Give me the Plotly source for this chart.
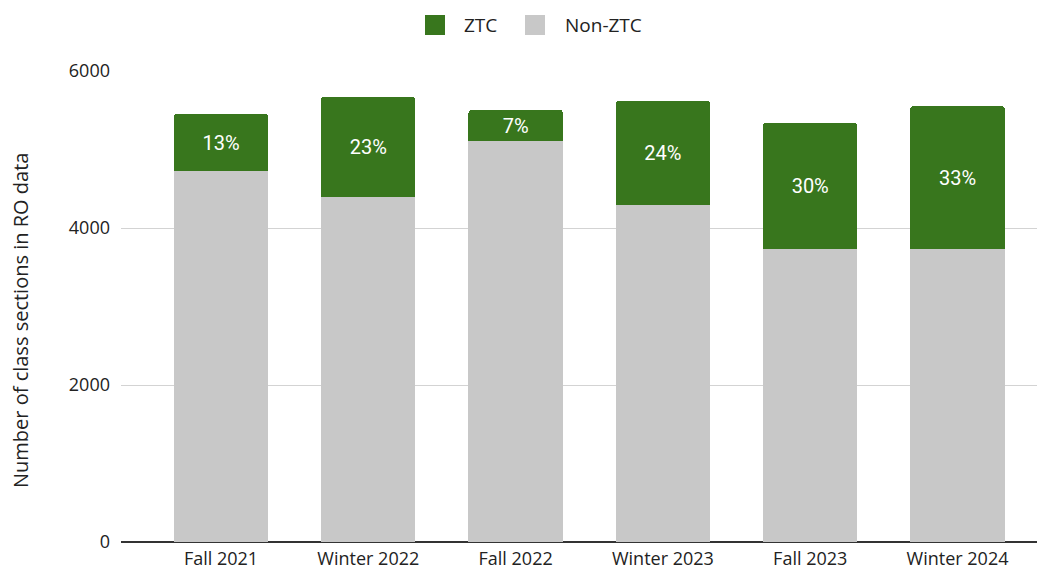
import plotly.graph_objects as go

terms = ["Fall 2021", "Winter 2022", "Fall 2022", "Winter 2023", "Fall 2023", "Winter 2024"]
non_ztc = [4726, 4395, 5108, 4293, 3732, 3732]
ztc = [726, 1274, 395, 1325, 1606, 1822]
ztc_labels = ["13%", "23%", "7%", "24%", "30%", "33%"]

GREEN = "#38761d"
GREY = "#c8c8c8"

W, H = 1037, 565
ML, MR, MT, MB = 113, 0, 63, 31
PW, PH = W - ML - MR, H - MT - MB


def px(x):
    return (x - ML) / PW


def py(y):
    return 1 + (MT - y) / PH


fig = go.Figure()
fig.add_trace(go.Bar(
    x=terms, y=non_ztc, name="Non-ZTC", showlegend=False,
    marker=dict(color=GREY, line=dict(width=0)),
))
fig.add_trace(go.Bar(
    x=terms, y=ztc, name="ZTC", showlegend=False,
    marker=dict(color=GREEN, line=dict(width=0)),
    text=ztc_labels, textposition="inside", insidetextanchor="middle",
    textfont=dict(family="Roboto", size=20, color="white"),
    constraintext="none",
))

# manual legend (square swatches + labels)
legend_items = [("ZTC", GREEN, 417, 454), ("Non-ZTC", GREY, 517, 555)]
shapes = []
annotations = []
for name, col, sx, tx in legend_items:
    shapes.append(dict(type="rect", xref="paper", yref="paper",
                       x0=px(sx), x1=px(sx + 20), y0=py(27), y1=py(7),
                       fillcolor=col, line=dict(width=0), layer="above"))
    annotations.append(dict(text=name, xref="paper", yref="paper", x=px(tx), y=py(17),
                            xanchor="left", yanchor="middle", showarrow=False,
                            font=dict(family="Open Sans", size=19, color="#222222")))
annotations.append(dict(text="Number of class sections in RO data", xref="paper", yref="paper",
                        x=px(12), y=py(313), textangle=-90, showarrow=False,
                        xanchor="center", yanchor="middle",
                        font=dict(family="Open Sans", size=20, color="#222222")))

fig.update_layout(
    width=W, height=H,
    margin=dict(l=ML, r=MR, t=MT, b=MB),
    barmode="stack", bargap=0.36, barcornerradius=3,
    plot_bgcolor="white", paper_bgcolor="white",
    font=dict(family="Open Sans", size=18, color="#222222"),
    showlegend=False,
    xaxis=dict(range=[-0.679, 5.594], showgrid=False, showline=False, ticks="",
               tickfont=dict(size=18), ticklabelstandoff=4),
    yaxis=dict(range=[0, 6000], tickvals=[0, 2000, 4000, 6000], showgrid=True,
               gridcolor="#d3d3d3", gridwidth=1, zeroline=True, zerolinecolor="#333333",
               zerolinewidth=1.5, ticks="", ticklabelstandoff=10,
               tickfont=dict(size=18)),
    shapes=shapes,
    annotations=annotations,
    uniformtext=dict(mode=False),
)
fig.update_yaxes(automargin=False)
fig.update_xaxes(automargin=False)
fig.write_html("out.html")
